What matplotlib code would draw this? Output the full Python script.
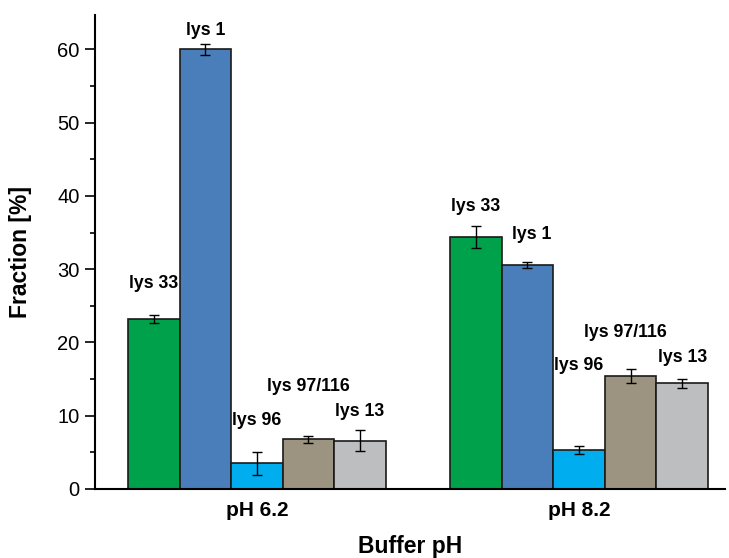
import matplotlib
matplotlib.use("Agg")
import matplotlib.pyplot as plt
import numpy as np
from matplotlib.ticker import MultipleLocator

plt.rcParams['font.family'] = ['Liberation Sans', 'DejaVu Sans']

groups = ["pH 6.2", "pH 8.2"]
species = ["lys 33", "lys 1", "lys 96", "lys 97/116", "lys 13"]
colors = ["#00A14B", "#4A7EBB", "#00AEEF", "#9C9480", "#BCBEC0"]
values = {
    "pH 6.2": [23.2, 60.0, 3.5, 6.8, 6.6],
    "pH 8.2": [34.4, 30.6, 5.3, 15.4, 14.4],
}
errors = {
    "pH 6.2": [0.6, 0.7, 1.6, 0.5, 1.4],
    "pH 8.2": [1.5, 0.4, 0.5, 1.0, 0.6],
}
label_heights = {
    "pH 6.2": [28.0, 62.6, 9.3, 14.0, 10.6],
    "pH 8.2": [38.6, 34.8, 16.8, 21.3, 17.9],
}
label_dx = {
    "pH 6.2": [0, 0, 0, 0, 0],
    "pH 8.2": [0, 0.012, 0, -0.015, 0],
}

fig = plt.figure(figsize=(7.29, 5.58), dpi=100)
ax = fig.add_axes([0.130, 0.1237, 0.8645, 0.8493])

w = 0.16
x = np.arange(len(groups))
for gi, g in enumerate(groups):
    for si in range(len(species)):
        xpos = x[gi] + (si - 2) * w
        ax.bar(xpos, values[g][si], width=w, color=colors[si], edgecolor="#1a1a1a",
               linewidth=1.2, zorder=2)
        ax.errorbar(xpos, values[g][si], yerr=errors[g][si], fmt="none", ecolor="black",
                    elinewidth=1.0, capsize=3.5, capthick=1.0, zorder=3)
        ax.text(xpos + label_dx[g][si], label_heights[g][si], species[si], ha="center", va="center",
                fontsize=12.8, fontweight="bold", zorder=4)

ax.set_xlim(-0.503, 1.453)
ax.set_ylim(0, 64.7)
ax.set_xticks(x)
ax.set_xticklabels(groups, fontsize=15, fontweight="bold")
ax.tick_params(axis="x", length=0, pad=9)
ax.yaxis.set_major_locator(MultipleLocator(10))
ax.yaxis.set_minor_locator(MultipleLocator(5))
ax.tick_params(axis="y", which="major", direction="out", length=7, width=1.2, labelsize=14.5, pad=4)
ax.tick_params(axis="y", which="minor", direction="out", length=3.6, width=1.2)
for s in ["top", "right"]:
    ax.spines[s].set_visible(False)
for s in ["left", "bottom"]:
    ax.spines[s].set_linewidth(1.5)
ax.set_ylabel("Fraction [%]", fontsize=16.5, fontweight="bold")
ax.yaxis.set_label_coords(-0.1, 0.5)
ax.set_xlabel("Buffer pH", fontsize=16.5, fontweight="bold", va="top")
ax.xaxis.set_label_coords(0.5, -0.097)

fig.savefig("out.png", dpi=100)
